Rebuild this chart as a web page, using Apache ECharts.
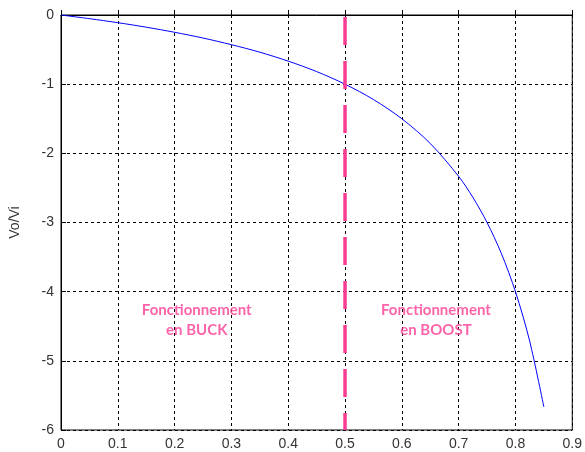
<!DOCTYPE html>
<html><head><meta charset="utf-8">
<script src="https://cdn.jsdelivr.net/npm/echarts@6/dist/echarts.min.js"></script>
<style>html,body{margin:0;padding:0;background:#fff}#c{width:585px;height:452px}</style>
</head><body><div id="c"></div>
<script>
const dutyCycle = [0,0.05,0.1,0.15,0.2,0.25,0.3,0.35,0.4,0.45,0.5,0.55,0.6,0.65,0.7,0.725,0.75,0.775,0.8,0.825,0.85];
const gain = [0,-0.053,-0.111,-0.176,-0.25,-0.333,-0.429,-0.538,-0.667,-0.818,-1.0,-1.222,-1.5,-1.857,-2.333,-2.636,-3.0,-3.444,-4.0,-4.714,-5.667];
const boundaryX = [0.5,0.5];
const boundaryY = [0,-6];
const annotations = ['Fonctionnement\nen BUCK','Fonctionnement\nen BOOST'];
const annotX = [0.239,0.66];
const annotY = [-4.41,-4.41];
const xTicks = {min:0,max:0.9,interval:0.1};
const yTicks = {min:-6,max:0,interval:1};

const chart = echarts.init(document.getElementById('c'));
const labelStyle = {color:'#333',fontFamily:'Liberation Sans, Arial, sans-serif',fontSize:14};
chart.setOption({
  animation:false,
  grid:{left:58,top:15,width:519.5,height:415,show:true,borderColor:'#000',borderWidth:1,backgroundColor:'#fff'},
  xAxis:{type:'value',min:xTicks.min,max:xTicks.max,interval:xTicks.interval,
    axisLine:{show:true,lineStyle:{color:'#000'}},
    axisTick:{show:true,inside:true,length:5,lineStyle:{color:'#000'}},
    axisLabel:Object.assign({margin:7,showMaxLabel:true},labelStyle),
    splitLine:{show:true,lineStyle:{color:'#000',type:[3,3],width:1}}},
  yAxis:{type:'value',min:yTicks.min,max:yTicks.max,interval:yTicks.interval,
    name:'Vo/Vi',nameLocation:'middle',nameGap:39,nameRotate:90,
    nameTextStyle:{color:'#333',fontFamily:'Liberation Sans, Arial, sans-serif',fontSize:14},
    axisLine:{show:true,lineStyle:{color:'#000'}},
    axisTick:{show:true,inside:true,length:5,lineStyle:{color:'#000'}},
    axisLabel:Object.assign({margin:7},labelStyle),
    splitLine:{show:true,lineStyle:{color:'#000',type:[3,3],width:1}}},
  series:[
    {type:'line',data:dutyCycle.map((d,i)=>[d,gain[i]]),smooth:0.3,showSymbol:false,
      lineStyle:{color:'#0000ff',width:1},z:3},
    {type:'line',data:boundaryX.map((d,i)=>[d,boundaryY[i]]),showSymbol:false,
      lineStyle:{color:'#fb3c94',width:3.5,type:[28,16],dashOffset:-2},z:4},
    {type:'scatter',data:annotX.map((d,i)=>[d,annotY[i]]),symbolSize:0,
      label:{show:true,position:'inside',formatter:p=>annotations[p.dataIndex],
        color:'#fb3c94',fontWeight:'bold',fontFamily:'Lato, Carlito, sans-serif',fontSize:15,lineHeight:20,align:'center'},z:5}
  ]
});
</script></body></html>
